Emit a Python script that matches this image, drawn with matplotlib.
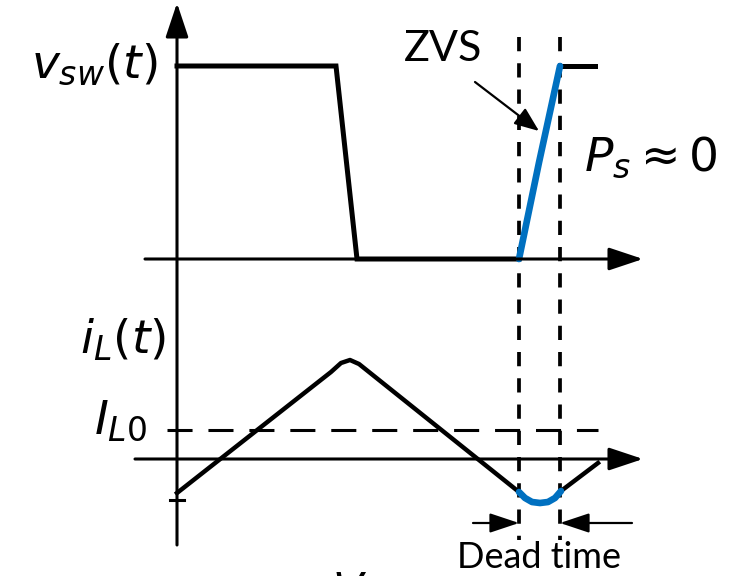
import matplotlib.pyplot as plt

plt.rcParams['font.family'] = ['Lato', 'DejaVu Sans']
plt.rcParams['mathtext.fontset'] = 'custom'
plt.rcParams['mathtext.rm'] = 'DejaVu Sans'
plt.rcParams['mathtext.it'] = 'DejaVu Sans:italic'

# switch-node voltage (normalised, 0 = low, 1 = high) against time
t_sw = [0, 159, 180, 342]
v_sw = [1, 1, 0, 0]
t_zvs = [342, 362, 383]
v_zvs = [0, 0.5, 1]
t_sw_end = [383, 418]
v_sw_end = [1, 1]

# inductor current against time
t_il = [0, 154, 164, 173, 182, 192, 342]
i_l = [-34, 87, 96, 99, 95, 87, -33]
t_dead = [342, 348, 355, 363, 371, 378, 384]
i_dead = [-33, -39, -43, -44, -43, -39, -32]
t_il_end = [384, 421]
i_il_end = [-32, -4]
I_L0 = 29

# layout (drawing units)
T0 = 177          # time origin
VSW_BASE, VSW_SCALE = 259, 193
IL_BASE = 459
BLUE = '#0070C0'

fig = plt.figure(figsize=(7.48, 5.76), dpi=100)
ax = fig.add_axes([0, 0, 1, 1])
ax.set_xlim(0, 748)
ax.set_ylim(576, 0)
ax.axis('off')

def vy(v):
    return [VSW_BASE - VSW_SCALE * a for a in v]

def iy(i):
    return [IL_BASE - a for a in i]

def tx(t):
    return [T0 + a for a in t]

arrow = dict(arrowstyle='-|>,head_length=1.05,head_width=0.35', color='black',
             lw=2.2, shrinkA=0, shrinkB=0, mutation_scale=20)

# axes with arrow heads
ax.annotate('', xy=(T0, 3), xytext=(T0, 545), arrowprops=arrow)
ax.annotate('', xy=(643, VSW_BASE), xytext=(145, VSW_BASE), arrowprops=arrow)
ax.annotate('', xy=(643, IL_BASE), xytext=(135, IL_BASE), arrowprops=arrow)
ax.plot([170, 184], [500, 500], color='black', lw=2.2)

# dead-time markers
for t in (t_zvs[0], t_zvs[-1]):
    ax.plot([T0 + t, T0 + t], [37, 540], color='black', lw=2.7,
            dashes=(3.8, 3.2))
ax.plot([167, 598], iy([I_L0, I_L0]), color='black', lw=2.2, dashes=(8.2, 5.2))

# v_sw(t)
ax.plot(tx(t_sw), vy(v_sw), color='black', lw=3.6, solid_joinstyle='miter')
ax.plot(tx(t_sw_end), vy(v_sw_end), color='black', lw=3.6)
ax.plot(tx(t_zvs), vy(v_zvs), color=BLUE, lw=4.8, solid_capstyle='round')

# i_L(t)
ax.plot(tx(t_il), iy(i_l), color='black', lw=3.2, solid_joinstyle='round')
ax.plot(tx(t_il_end), iy(i_il_end), color='black', lw=3.2)
ax.plot(tx(t_dead), iy(i_dead), color=BLUE, lw=4.8, solid_capstyle='round')

# dead time dimension arrows
dim = dict(arrowstyle='-|>,head_length=0.9,head_width=0.3', color='black',
           lw=1.6, shrinkA=0, shrinkB=0, mutation_scale=20)
ax.annotate('', xy=(T0 + t_zvs[0], 523), xytext=(473, 523), arrowprops=dim)
ax.annotate('', xy=(T0 + t_zvs[-1], 523), xytext=(632, 523), arrowprops=dim)

# labels
ax.text(158, 64, r'$v_{sw}(t)$', fontsize=34, ha='right', va='center')
ax.text(166, 340, r'$i_{L}(t)$', fontsize=34, ha='right', va='center')
ax.text(147, 421, r'$I_{L0}$', fontsize=34, ha='right', va='center')
ax.text(584, 157, r'$P_s \approx 0$', fontsize=34, ha='left', va='center')
ax.text(443, 49, 'ZVS', fontsize=31, ha='center', va='center')
ax.annotate('', xy=(539, 131), xytext=(475, 82),
            arrowprops=dict(arrowstyle='-|>,head_length=0.75,head_width=0.3',
                            color='black', lw=1.6, shrinkA=0, shrinkB=0,
                            mutation_scale=20))
ax.text(539, 557, 'Dead time', fontsize=26, ha='center', va='center')
ax.text(350, 572, r'$V$', fontsize=32, ha='center', va='top')

fig.savefig('out.png', dpi=100)
